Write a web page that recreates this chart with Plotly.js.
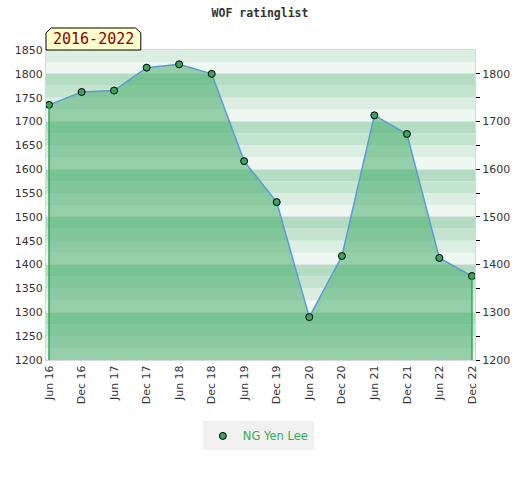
<!DOCTYPE html>
<html>
<head>
<meta charset="utf-8">
<script src="https://cdn.plot.ly/plotly-3.0.1.min.js"></script>
<style>html,body{margin:0;padding:0;background:#fff;}#chart{width:520px;height:480px;}</style>
</head>
<body>
<div id="chart"></div>
<script>
// ---- data ----
var dates = ["2016-06-01","2016-12-01","2017-06-01","2017-12-01","2018-06-01","2018-12-01","2019-06-01",
             "2019-12-01","2020-06-01","2020-12-01","2021-06-01","2021-12-01","2022-06-01","2022-12-01"];
var tickLabels = ["Jun 16","Dec 16","Jun 17","Dec 17","Jun 18","Dec 18","Jun 19",
                  "Dec 19","Jun 20","Dec 20","Jun 21","Dec 21","Jun 22","Dec 22"];
var ratings = [1735, 1762, 1765, 1813, 1820, 1800, 1617, 1531, 1290, 1418, 1713, 1674, 1414, 1376];
var rightTicks = [1200, 1300, 1400, 1500, 1600, 1700, 1800];
var rightMinorTicks = [1250, 1350, 1450, 1550, 1650, 1750];
var playerName = "NG Yen Lee";
var chartTitle = "WOF ratinglist";
var periodLabel = "2016-2022";

// ---- layout constants ----
var yMin = 1200, yMax = 1850;
var bandColors = ["#eef7f1", "#dcede2", "#c5e4d0", "#b3dcc2"];
var shapes = [];
for (var k = 0; yMin + 25 * k < yMax; k++) {
  shapes.push({type: "rect", xref: "paper", yref: "y", x0: 0, x1: 1,
    y0: yMin + 25 * k, y1: yMin + 25 * (k + 1), fillcolor: bandColors[k % 4],
    line: {width: 0}, layer: "below"});
}
// label box with clipped corners
shapes.push({type: "path", xref: "paper", yref: "paper",
  path: "M 0,1 L 0,1.055 L 0.012,1.071 L 0.209,1.071 L 0.221,1.055 L 0.221,1 Z",
  fillcolor: "#ffffcc", line: {color: "#000", width: 1}, layer: "above"});

var pad = 17 * 24 * 3600 * 1000;
var xr = [new Date(new Date(dates[0]).getTime() - pad).toISOString(),
          new Date(new Date(dates[dates.length - 1]).getTime() + pad).toISOString()];

var n = dates.length;
var traces = [
  {x: dates, y: ratings, type: "scatter", mode: "lines", fill: "tozeroy",
   fillcolor: "rgba(60,167,100,0.5)", line: {width: 0}, hoverinfo: "skip", showlegend: false},
  {x: [dates[0], dates[0], null, dates[n - 1], dates[n - 1]],
   y: [yMin, ratings[0], null, yMin, ratings[n - 1]],
   type: "scatter", mode: "lines", line: {color: "#33aa55", width: 1.5},
   yaxis: "y2", showlegend: false, hoverinfo: "skip"},
  {x: dates, y: ratings, type: "scatter", mode: "lines",
   line: {color: "#5b9bd5", width: 1.5}, showlegend: false},
  {x: dates, y: ratings, type: "scatter", mode: "markers", name: playerName,
   marker: {color: "#3aa35f", size: 7, line: {color: "#000", width: 1}}}
];

var layout = {
  width: 520, height: 480,
  margin: {l: 46, r: 45, t: 50, b: 120},
  paper_bgcolor: "#fff", plot_bgcolor: "rgba(0,0,0,0)",
  font: {family: "DejaVu Sans", size: 11, color: "#333"},
  title: {text: chartTitle, x: 0.5, xanchor: "center", y: 0.972, yanchor: "middle",
          font: {family: "DejaVu Sans Mono", size: 11.5, color: "#333", weight: "bold"}},
  xaxis: {type: "date", range: xr, tickvals: dates, ticktext: tickLabels, tickangle: -90,
          showgrid: false, zeroline: false, showline: true, mirror: true, linecolor: "#d8d8d8",
          ticks: "", ticklen: 4, tickfont: {size: 11, color: "#333"}},
  yaxis: {range: [yMin, yMax], dtick: 50, tick0: yMin, showgrid: false, zeroline: false,
          showline: true, mirror: true, linecolor: "#d8d8d8", ticks: "",
          tickfont: {size: 11, color: "#333"}},
  yaxis2: {range: [yMin, yMax], overlaying: "y", side: "right", tickvals: rightTicks,
           showgrid: true, gridcolor: "#e2e2e2", gridwidth: 1, zeroline: false, showline: false,
           ticks: "outside", ticklen: 4, tickcolor: "#000",
           minor: {tickvals: rightMinorTicks, ticks: "outside", ticklen: 4, tickcolor: "#000", showgrid: false},
           tickfont: {size: 11, color: "#333"}},
  showlegend: true,
  legend: {orientation: "h", x: 0.495, xanchor: "center", y: -0.245, yanchor: "middle",
           bgcolor: "#f0f0f0", font: {color: "#33aa55", size: 11.5}},
  shapes: shapes,
  annotations: [{xref: "paper", yref: "paper", x: 0.11, y: 1.036, text: periodLabel,
    showarrow: false, xanchor: "center", yanchor: "middle",
    font: {family: "DejaVu Sans Mono", size: 15, color: "#8b0000"}}]
};

Plotly.newPlot("chart", traces, layout, {displayModeBar: false, staticPlot: true});
</script>
</body>
</html>
